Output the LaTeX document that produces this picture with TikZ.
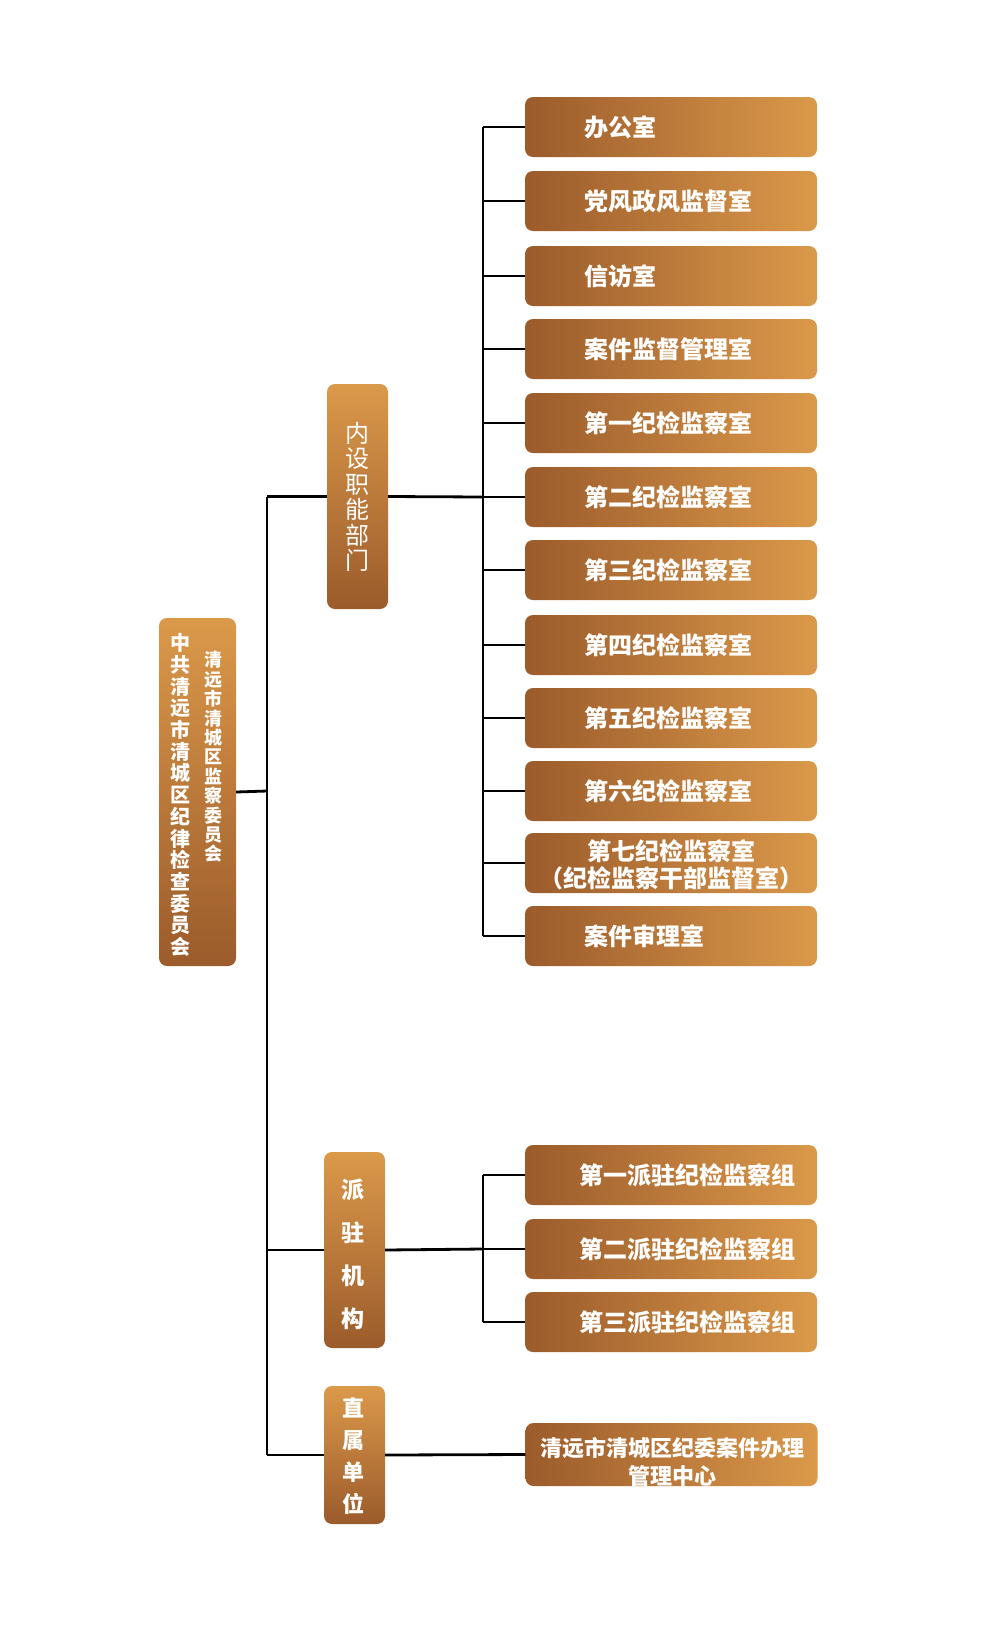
\documentclass[tikz,border=0pt]{standalone}
\usepackage{fontspec}
\newfontfamily\cjk{Noto Sans CJK SC}
\definecolor{bdark}{RGB}{155,91,43}
\definecolor{blight}{RGB}{219,153,74}
\begin{document}
\begin{tikzpicture}[x=1pt,y=-1pt,
  conn/.style={draw=black,line width=2.8pt},
  hbox/.style={rounded corners=8pt,left color=bdark,right color=blight,draw=none,
    minimum width=292pt,minimum height=60pt,inner sep=0pt},
  vbox/.style={rounded corners=8pt,top color=blight,bottom color=bdark,draw=none,inner sep=0pt},
  htext/.style={text=white,font=\cjk\bfseries\fontsize{24}{27}\selectfont,inner sep=0pt,anchor=west},
  ctext/.style={text=white,font=\cjk\bfseries\fontsize{24}{27}\selectfont,inner sep=0pt,align=center},
]
\useasboundingbox (0,0) rectangle (1000,1636);
\fill[white] (0,0) rectangle (1000,1636);

% root
\node[vbox,minimum width=77pt,minimum height=348pt] (root) at (197.5,792) {};
\node[text=white,font=\cjk\bfseries\fontsize{20}{21.7}\selectfont,align=center,inner sep=0pt] (rootA) at (180,795)
 {中\\共\\清\\远\\市\\清\\城\\区\\纪\\律\\检\\查\\委\\员\\会};
\node[text=white,font=\cjk\bfseries\fontsize{18}{19.4}\selectfont,align=center,inner sep=0pt] (rootB) at (213,757)
 {清\\远\\市\\清\\城\\区\\监\\察\\委\\员\\会};

% level 2
\node[vbox,minimum width=61pt,minimum height=225pt] (dept) at (357.5,496.5) {};
\node[text=white,font=\cjk\fontsize{24}{25.5}\selectfont,align=center,inner sep=0pt] (deptT) at (357,497)
 {内\\设\\职\\能\\部\\门};
\node[vbox,minimum width=61pt,minimum height=196pt] (pz) at (354.5,1250) {};
\node[text=white,font=\cjk\bfseries\fontsize{23}{43}\selectfont,align=center,inner sep=0pt] (pzT) at (353,1254)
 {派\\驻\\机\\构};
\node[vbox,minimum width=61pt,minimum height=138pt] (zs) at (354.5,1455) {};
\node[text=white,font=\cjk\bfseries\fontsize{22}{32}\selectfont,align=center,inner sep=0pt] (zsT) at (353,1456)
 {直\\属\\单\\位};

% trunk
\coordinate (tr) at (267,791);
\coordinate (tTop) at (267,496.5);
\coordinate (tMid) at (267,1250);
\coordinate (tBot) at (267,1455);
\draw[conn] (root.east) -- (tr);
\draw[conn] (tTop) -- (tBot);
\draw[conn] (tTop) -- (dept.west);
\draw[conn] (tMid) -- (pz.west);
\draw[conn] (tBot) -- (zs.west);

% department boxes
\foreach \i/\y in {1/127,2/201,3/276,4/349,5/423,6/497,7/570,8/645,9/718,10/791,11/863,12/936}{
  \node[hbox] (d\i) at (671,\y) {};
  \coordinate (b\i) at (483,\y);
}
\draw[conn] (b1) -- (b12);
\draw[conn] (dept.east) -- (b6);
\foreach \i in {1,...,12}{ \draw[conn] (b\i) -- (d\i.west); }

\node[htext] (d1t) at (584,127) {办公室};
\node[htext] (d2t) at (584,201) {党风政风监督室};
\node[htext] (d3t) at (584,276) {信访室};
\node[htext] (d4t) at (584,349) {案件监督管理室};
\node[htext] (d5t) at (584,423) {第一纪检监察室};
\node[htext] (d6t) at (584,497) {第二纪检监察室};
\node[htext] (d7t) at (584,570) {第三纪检监察室};
\node[htext] (d8t) at (584,645) {第四纪检监察室};
\node[htext] (d9t) at (584,718) {第五纪检监察室};
\node[htext] (d10t) at (584,791) {第六纪检监察室};
\node[ctext] (d11t) at (671,865) {第七纪检监察室\\（纪检监察干部监督室）};
\node[htext] (d12t) at (584,936) {案件审理室};

% stationed boxes
\foreach \i/\y in {1/1175,2/1249,3/1322}{
  \node[hbox] (p\i) at (671,\y) {};
  \coordinate (q\i) at (483,\y);
}
\draw[conn] (q1) -- (q3);
\draw[conn] (pz.east) -- (q2);
\foreach \i in {1,2,3}{ \draw[conn] (q\i) -- (p\i.west); }
\node[htext] (p1t) at (579,1175) {第一派驻纪检监察组};
\node[htext] (p2t) at (579,1249) {第二派驻纪检监察组};
\node[htext] (p3t) at (579,1322) {第三派驻纪检监察组};

% direct unit
\node[hbox,minimum height=63pt] (u1) at (671.5,1454.5) {};
\draw[conn] (zs.east) -- (u1.west);
\node[text=white,font=\cjk\bfseries\fontsize{22}{28}\selectfont,align=center,inner sep=0pt] (u1t) at (672,1462)
 {清远市清城区纪委案件办理\\管理中心};
\end{tikzpicture}
\end{document}
